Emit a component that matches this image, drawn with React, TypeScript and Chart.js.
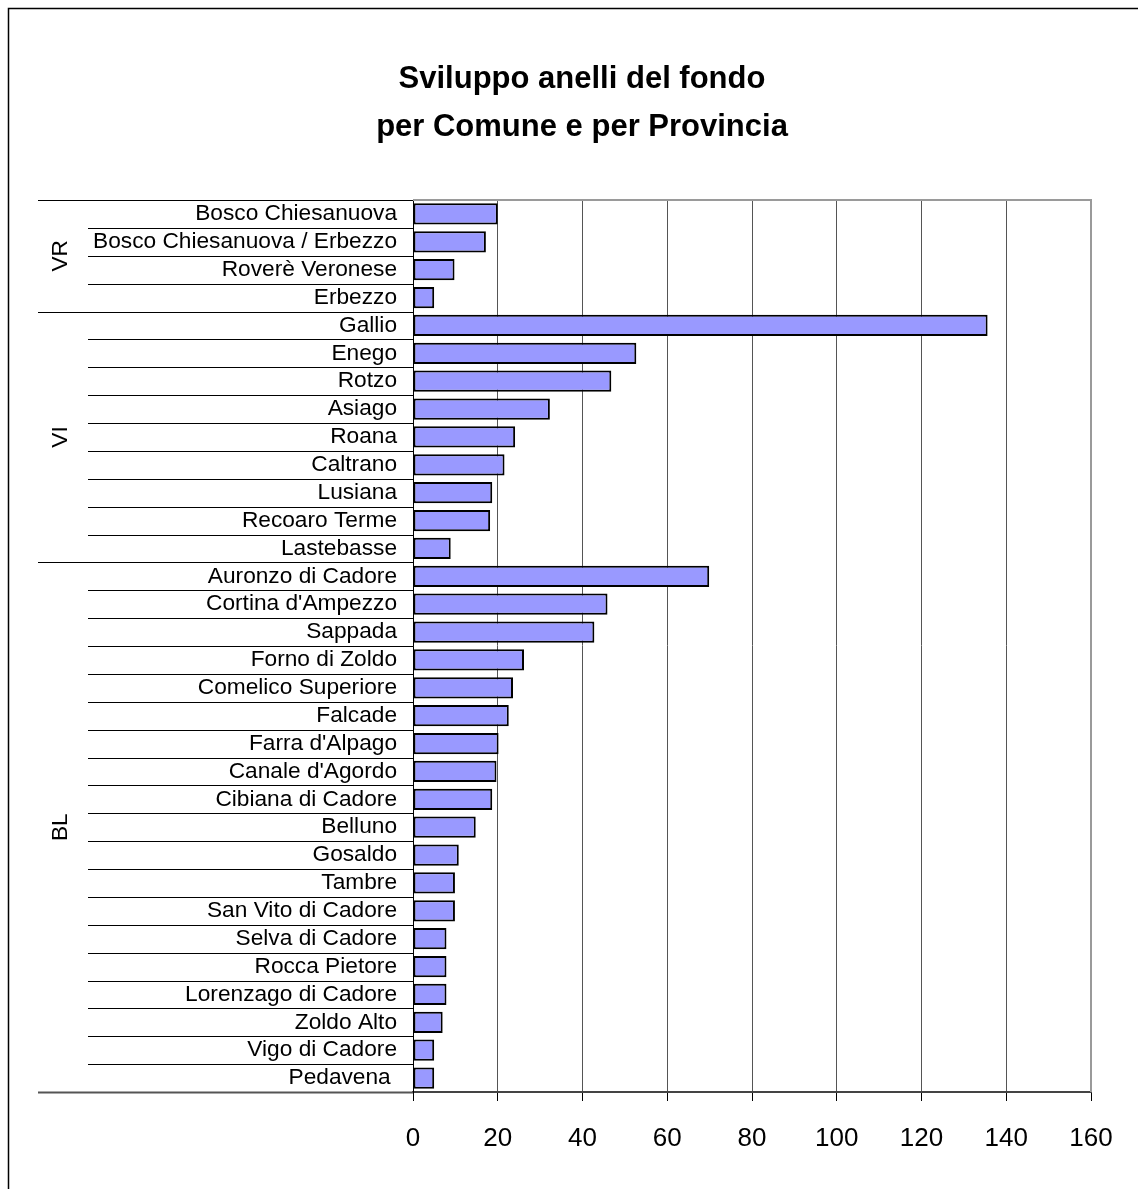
import React, { useEffect, useRef } from "react";
import { Chart, registerables } from "chart.js";

Chart.register(...registerables);

const titleLines = ["Sviluppo anelli del fondo", "per Comune e per Provincia"];

const categories = [
  "Bosco Chiesanuova",
  "Bosco Chiesanuova / Erbezzo",
  "Roverè Veronese",
  "Erbezzo",
  "Gallio",
  "Enego",
  "Rotzo",
  "Asiago",
  "Roana",
  "Caltrano",
  "Lusiana",
  "Recoaro Terme",
  "Lastebasse",
  "Auronzo di Cadore",
  "Cortina d'Ampezzo",
  "Sappada",
  "Forno di Zoldo",
  "Comelico Superiore",
  "Falcade",
  "Farra d'Alpago",
  "Canale d'Agordo",
  "Cibiana di Cadore",
  "Belluno",
  "Gosaldo",
  "Tambre",
  "San Vito di Cadore",
  "Selva di Cadore",
  "Rocca Pietore",
  "Lorenzago di Cadore",
  "Zoldo Alto",
  "Vigo di Cadore",
  "Pedavena ",
];

const values = [
  20, 17.2, 9.8, 5,
  135.6, 52.7, 46.8, 32.3, 24.1, 21.6, 18.7, 18.2, 8.9,
  69.9, 45.9, 42.8, 26.2, 23.6, 22.6, 20.2, 19.7, 18.7, 14.8, 10.8, 9.9, 9.9,
  7.9, 7.9, 7.9, 7, 5, 5,
];

const provinces = ["VR", "VI", "BL"];
const provinceSizes = [4, 9, 19];

const xMin = 0;
const xMax = 160;
const xStep = 20;

const FONT = '"Liberation Sans", Arial, Helvetica, sans-serif';

export default function App() {
  const ref = useRef<HTMLCanvasElement | null>(null);

  useEffect(() => {
    const canvas = ref.current;
    if (!canvas) return;

    const decor = {
      id: "decor",
      afterDraw(chart: any) {
        const ctx = chart.ctx as CanvasRenderingContext2D;
        const area = chart.chartArea;
        const yS = chart.scales.y;
        const n = categories.length;
        ctx.save();

        // outer frame (top and left edges visible)
        ctx.strokeStyle = "#000";
        ctx.lineWidth = 1.5;
        ctx.beginPath();
        ctx.moveTo(8.5, 1189);
        ctx.lineTo(8.5, 8.5);
        ctx.lineTo(1138, 8.5);
        ctx.stroke();

        // title
        ctx.fillStyle = "#000";
        ctx.font = `bold 31px ${FONT}`;
        ctx.textAlign = "center";
        ctx.textBaseline = "alphabetic";
        ctx.fillText(titleLines[0], 582, 88);
        ctx.fillText(titleLines[1], 582, 136);

        // boundaries
        const groupIdx = new Set<number>();
        let acc = 0;
        groupIdx.add(0);
        provinceSizes.forEach((s) => {
          acc += s;
          groupIdx.add(acc);
        });
        const boundaryY = (k: number) => {
          if (k === 0) return area.top;
          if (k === n) return area.bottom;
          return (yS.getPixelForValue(k - 1) + yS.getPixelForValue(k)) / 2;
        };
        for (let k = 0; k <= n; k++) {
          const py = Math.round(boundaryY(k)) + 0.5;
          const x0 = groupIdx.has(k) ? 38 : 88;
          ctx.strokeStyle = k === n ? "#555" : "#000";
          ctx.lineWidth = k === n ? 2 : 1;
          ctx.beginPath();
          ctx.moveTo(x0, py);
          ctx.lineTo(area.left, py);
          ctx.stroke();
        }

        // group labels
        ctx.font = `22.7px ${FONT}`;
        ctx.fillStyle = "#000";
        ctx.textAlign = "center";
        ctx.textBaseline = "middle";
        let start = 0;
        provinces.forEach((p, i) => {
          const end = start + provinceSizes[i];
          const cy = (boundaryY(start) + boundaryY(end)) / 2;
          ctx.save();
          ctx.translate(61, cy);
          ctx.rotate(-Math.PI / 2);
          ctx.fillText(p, 0, 0);
          ctx.restore();
          start = end;
        });

        // plot area border (top / right)
        ctx.strokeStyle = "#9a9a9a";
        ctx.lineWidth = 2;
        ctx.beginPath();
        ctx.moveTo(area.left, area.top);
        ctx.lineTo(area.right, area.top);
        ctx.lineTo(area.right, area.bottom);
        ctx.stroke();

        ctx.restore();
      },
    };

    const chart = new Chart(canvas, {
      type: "bar",
      data: {
        labels: categories,
        datasets: [
          {
            data: values,
            backgroundColor: "#9999FF",
            borderColor: "#000",
            borderWidth: 2,
            borderSkipped: false,
            barPercentage: 0.76,
            categoryPercentage: 1,
          },
        ],
      },
      options: {
        indexAxis: "y",
        responsive: false,
        animation: false,
        devicePixelRatio: 1,
        layout: { padding: { top: 200, right: 47, bottom: 0, left: 0 } },
        plugins: {
          legend: { display: false },
          title: { display: false },
          tooltip: { enabled: false },
        },
        scales: {
          x: {
            type: "linear",
            min: xMin,
            max: xMax,
            ticks: {
              stepSize: xStep,
              color: "#000",
              font: { family: FONT, size: 26 },
              padding: 22,
              maxRotation: 0,
            },
            grid: {
              color: "#555",
              lineWidth: 1,
              tickLength: 9,
              tickColor: "#000",
              drawTicks: true,
            },
            border: { display: true, color: "#444", width: 2 },
            afterFit: (scale: any) => {
              scale.height = 97;
            },
          },
          y: {
            type: "category",
            offset: true,
            ticks: {
              color: "#000",
              font: { family: FONT, size: 22.7 },
              padding: 16,
              autoSkip: false,
            },
            grid: { display: false, drawTicks: false },
            border: { display: true, color: "#000", width: 1 },
            afterFit: (scale: any) => {
              scale.width = 413;
            },
          },
        },
      },
      plugins: [decor],
    } as any);

    return () => {
      chart.destroy();
    };
  }, []);

  return (
    <div
      style={{
        position: "fixed",
        left: 0,
        top: 0,
        width: 1138,
        height: 1189,
        background: "#fff",
      }}
    >
      <canvas ref={ref} width={1138} height={1189} style={{ display: "block" }} />
    </div>
  );
}
